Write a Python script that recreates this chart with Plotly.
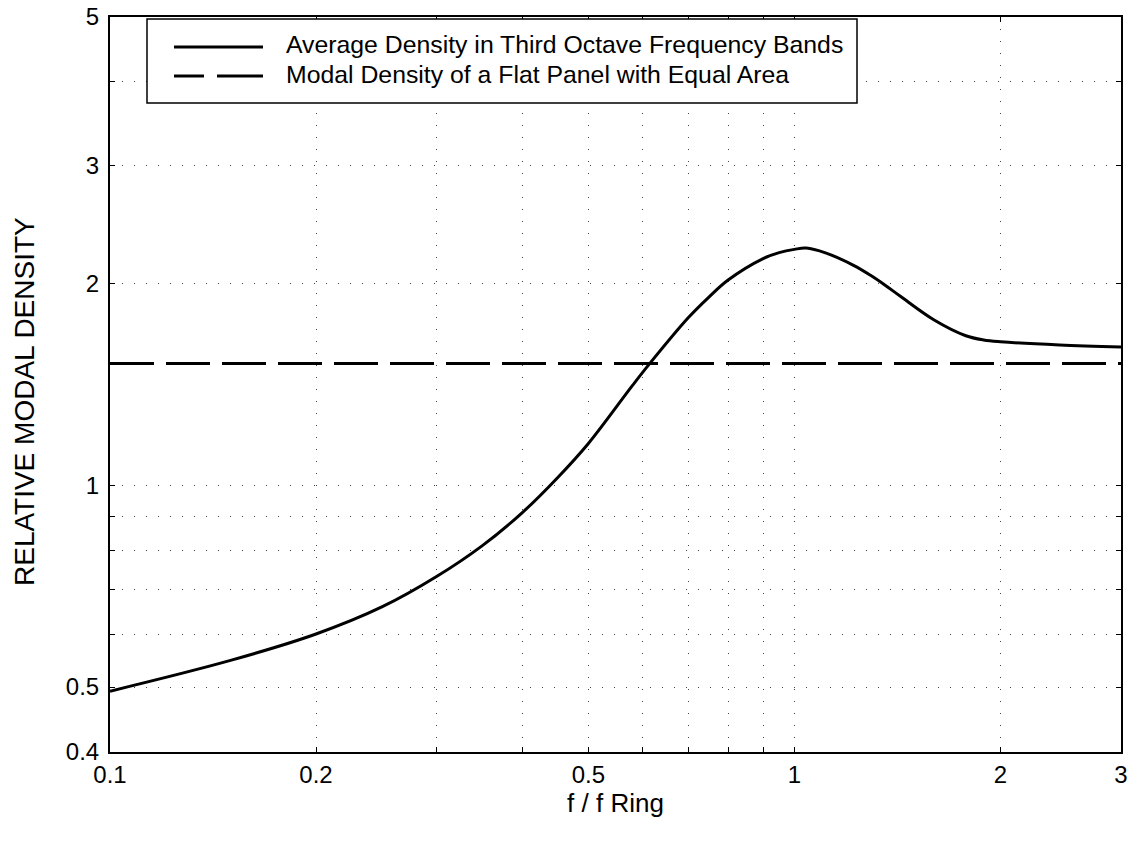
import numpy as np
import plotly.graph_objects as go

# values
freq_ratio = [0.1, 0.15, 0.2, 0.25, 0.3, 0.35, 0.4, 0.45, 0.5, 0.58, 0.614,
              0.7, 0.75, 0.8, 0.9, 0.95, 1.0, 1.04, 1.11, 1.22, 1.29, 1.36,
              1.43, 1.6, 1.78, 1.89, 2.0, 2.44, 3.0]
avg_density = [0.493, 0.548, 0.600, 0.659, 0.731, 0.813, 0.91, 1.025, 1.155,
               1.41, 1.518, 1.78, 1.91, 2.025, 2.18, 2.225, 2.25, 2.26, 2.223,
               2.13, 2.06, 1.986, 1.913, 1.765, 1.672, 1.648, 1.638, 1.62, 1.609]

flat_x = [0.1, 3.0]
flat_density = [1.52, 1.52]

legend_names = ["Average Density in Third Octave Frequency Bands",
                "Modal Density of a Flat Panel with Equal Area"]

x_ticks = [0.1, 0.2, 0.3, 0.4, 0.5, 0.6, 0.7, 0.8, 0.9, 1, 2, 3]
x_labels = ["0.1", "0.2", "", "", "0.5", "", "", "", "", "1", "2", "3"]
y_ticks = [0.4, 0.5, 0.6, 0.7, 0.8, 0.9, 1, 2, 3, 4, 5]
y_labels = ["0.4", "0.5", "", "", "", "", "1", "2", "3", "", "5"]

FONT = "Liberation Sans, Arial, Helvetica, sans-serif"

fig = go.Figure()
fig.add_trace(go.Scatter(x=freq_ratio, y=avg_density, mode="lines",
                         line=dict(color="black", width=3, shape="spline", smoothing=1.0),
                         showlegend=False))
fig.add_trace(go.Scatter(x=flat_x, y=flat_density, mode="lines",
                         line=dict(color="black", width=3, dash="44px,12px"),
                         showlegend=False))

axis_common = dict(
    type="log", showline=True, linecolor="black", linewidth=2, mirror="ticks",
    ticks="inside", ticklen=5, tickwidth=1, tickcolor="black",
    showgrid=True, gridcolor="#444", gridwidth=1, griddash="1px,11px",
    zeroline=False, automargin=False, ticklabeloverflow="allow",
    tickfont=dict(size=24, color="black", family=FONT),
)

fig.update_xaxes(axis_common, range=[np.log10(0.1), np.log10(3)],
                 tickvals=x_ticks, ticktext=x_labels,
                 title=dict(text="f / f Ring", font=dict(size=26, family=FONT, color="black"),
                            standoff=7))
fig.update_yaxes(axis_common, range=[np.log10(0.4), np.log10(5)],
                 tickvals=y_ticks, ticktext=y_labels, ticklabelstandoff=4)


# manual legend box, window pixels converted to paper coords
def px_x(p):
    return (p - 110) / 1011


def px_y(p):
    return (752 - p) / 735


shapes = [
    dict(type="rect", xref="paper", yref="paper", x0=px_x(147), x1=px_x(857),
         y0=px_y(103), y1=px_y(19), line=dict(color="black", width=1.5),
         fillcolor="white", layer="above"),
    dict(type="line", xref="paper", yref="paper", x0=px_x(174), x1=px_x(263),
         y0=px_y(47), y1=px_y(47), line=dict(color="black", width=3), layer="above"),
    dict(type="line", xref="paper", yref="paper", x0=px_x(174), x1=px_x(204),
         y0=px_y(76), y1=px_y(76), line=dict(color="black", width=3), layer="above"),
    dict(type="line", xref="paper", yref="paper", x0=px_x(217), x1=px_x(263),
         y0=px_y(76), y1=px_y(76), line=dict(color="black", width=3), layer="above"),
]
annotations = [
    dict(xref="paper", yref="paper", x=px_x(284), y=px_y(45), text=legend_names[0],
         showarrow=False, xanchor="left", yanchor="middle",
         font=dict(size=24.8, family=FONT, color="black")),
    dict(xref="paper", yref="paper", x=px_x(284), y=px_y(74), text=legend_names[1],
         showarrow=False, xanchor="left", yanchor="middle",
         font=dict(size=24.8, family=FONT, color="black")),
    dict(xref="paper", yref="paper", x=px_x(24), y=px_y(402), text="RELATIVE MODAL DENSITY",
         showarrow=False, xanchor="center", yanchor="middle", textangle=-90,
         font=dict(size=28, family=FONT, color="black")),
]

fig.update_layout(
    width=1137, height=844,
    margin=dict(l=110, r=16, t=17, b=92, autoexpand=False),
    paper_bgcolor="white", plot_bgcolor="white",
    font=dict(family=FONT, color="black"),
    shapes=shapes, annotations=annotations, showlegend=False,
)

# drop the browser's default 8px body margin so the figure fills the window
fig.write_html("out.html", config={"displayModeBar": False},
               post_script="document.body.style.margin='0';")
